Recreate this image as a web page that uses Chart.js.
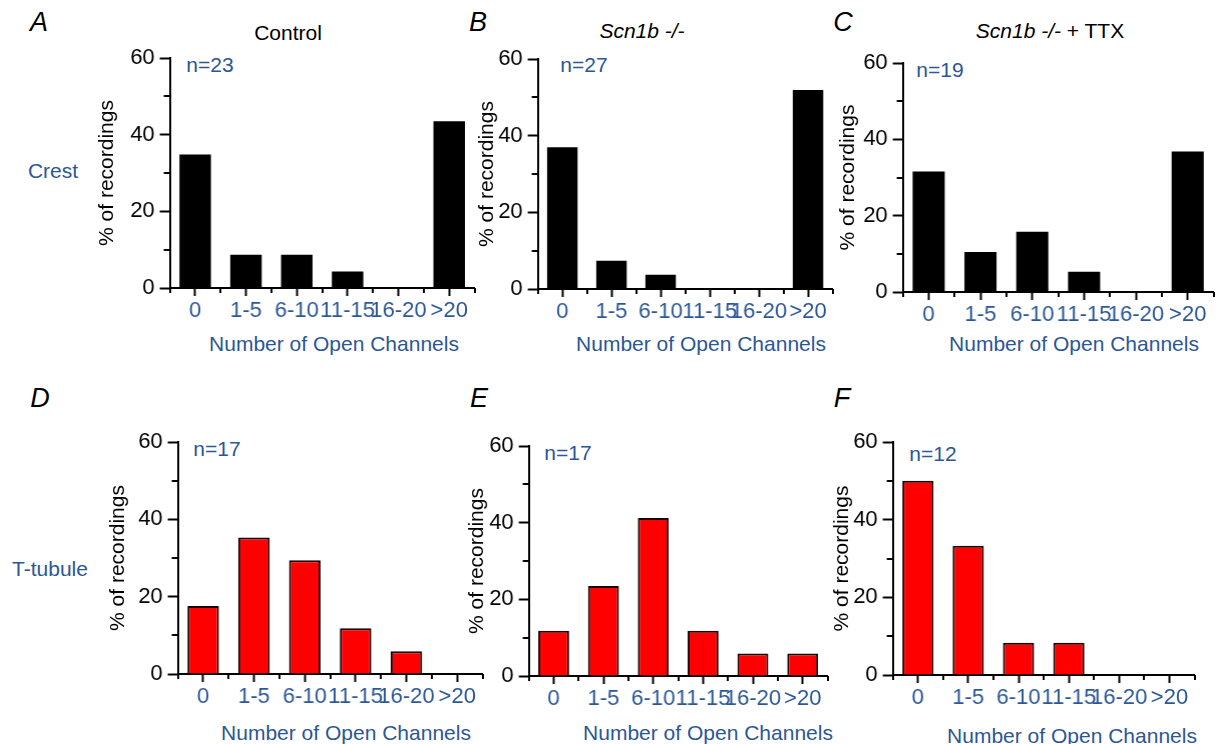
<!DOCTYPE html>
<html lang="en">

<head>
    <meta charset="UTF-8" />
    <title>Open channels</title>
    <script src="https://cdn.jsdelivr.net/npm/chart.js"></script>
    <style>
        body {
            margin: 0;
            background: #fff;
            font-family: "Liberation Sans", Arial, sans-serif;
        }

        .page {
            position: relative;
            width: 1225px;
            height: 744px;
            overflow: hidden;
        }

        .panel {
            position: absolute;
        }

        .txt {
            position: absolute;
            transform: translate(-50%, -50%);
            white-space: nowrap;
            font-size: 21px;
            line-height: 1;
        }

        .blue {
            color: #2b5797;
        }

        .letter {
            font-size: 27px;
            font-style: italic;
        }
    </style>
</head>

<body>
    <div class="page" id="page">
        <div class="txt letter" style="left:39px; top:22px;">A</div>
        <div class="txt letter" style="left:478px; top:22px;">B</div>
        <div class="txt letter" style="left:843px; top:22px;">C</div>
        <div class="txt letter" style="left:40px; top:398px;">D</div>
        <div class="txt letter" style="left:479px; top:398px;">E</div>
        <div class="txt letter" style="left:842px; top:398px;">F</div>

        <div class="txt" style="left:288px; top:32px;">Control</div>
        <div class="txt" style="left:642px; top:30px;"><i>Scn1b -/-</i></div>
        <div class="txt" style="left:1050px; top:30px;"><i>Scn1b -/-</i> + TTX</div>

        <div class="txt blue" style="left:53px; top:170px;">Crest</div>
        <div class="txt blue" style="left:50px; top:568px;">T-tubule</div>

        <div class="txt blue" style="left:210px; top:64px;">n=23</div>
        <div class="txt blue" style="left:584px; top:64px;">n=27</div>
        <div class="txt blue" style="left:940px; top:69px;">n=19</div>
        <div class="txt blue" style="left:217px; top:448px;">n=17</div>
        <div class="txt blue" style="left:568px; top:452px;">n=17</div>
        <div class="txt blue" style="left:933px; top:453px;">n=12</div>

        <div class="txt blue" style="left:334px; top:343px;">Number of Open Channels</div>
        <div class="txt blue" style="left:701px; top:343px;">Number of Open Channels</div>
        <div class="txt blue" style="left:1074px; top:343px;">Number of Open Channels</div>
        <div class="txt blue" style="left:346px; top:732px;">Number of Open Channels</div>
        <div class="txt blue" style="left:708px; top:732px;">Number of Open Channels</div>
        <div class="txt blue" style="left:1072px; top:735px;">Number of Open Channels</div>
    </div>

    <script>
        // categories and values (% of recordings)
        const categories = ["0", "1-5", "6-10", "11-15", "16-20", ">20"];

        const crestControl = [34.8, 8.7, 8.7, 4.3, 0, 43.5];
        const crestScn1b = [37.0, 7.4, 3.7, 0, 0, 51.9];
        const crestScn1bTTX = [31.6, 10.5, 15.8, 5.3, 0, 36.8];

        const ttubuleControl = [17.6, 35.3, 29.4, 11.8, 5.9, 0];
        const ttubuleScn1b = [11.8, 23.5, 41.2, 11.8, 5.9, 5.9];
        const ttubuleScn1bTTX = [50.0, 33.3, 8.3, 8.3, 0, 0];

        const yMin = 0;
        const yMax = 60;
        const yStep = 20;

        const BLUE = "#2b5797";

        Chart.defaults.font.family = '"Liberation Sans", Arial, sans-serif';
        Chart.defaults.font.size = 21;
        Chart.defaults.color = "#000";

        // short ticks between categories and at the half steps of y
        const minorTicks = {
            id: "minorTicks",
            afterDraw(chart) {
                const { ctx, scales: { x, y } } = chart;
                ctx.save();
                ctx.strokeStyle = "#000";
                ctx.lineWidth = 2;
                ctx.beginPath();
                for (let v = yMin + yStep / 2; v < yMax; v += yStep) {
                    const py = Math.round(y.getPixelForValue(v));
                    ctx.moveTo(y.right - 6, py);
                    ctx.lineTo(y.right, py);
                }
                for (let i = 0; i <= x.ticks.length; i++) {
                    const px = Math.round(x.getPixelForValue(i - 0.5));
                    ctx.moveTo(px, x.top);
                    ctx.lineTo(px, x.top + 5);
                }
                ctx.stroke();
                ctx.restore();
            },
        };

        // axis position on the page for each panel
        const panels = [
            { data: crestControl, fill: "#000", edge: "#000", ax: 170, axEnd: 474, top: 58, bottom: 288, tdist: 62 },
            { data: crestScn1b, fill: "#000", edge: "#000", ax: 538, axEnd: 832, top: 59, bottom: 289, tdist: 50 },
            { data: crestScn1bTTX, fill: "#000", edge: "#000", ax: 903, axEnd: 1213, top: 63, bottom: 292, tdist: 54 },
            { data: ttubuleControl, fill: "#ff0000", edge: "#1a0000", ax: 178, axEnd: 482, top: 442, bottom: 674, tdist: 59 },
            { data: ttubuleScn1b, fill: "#ff0000", edge: "#1a0000", ax: 529, axEnd: 827, top: 446, bottom: 676, tdist: 51 },
            { data: ttubuleScn1bTTX, fill: "#ff0000", edge: "#1a0000", ax: 893, axEnd: 1194, top: 442, bottom: 675, tdist: 50 },
        ];

        const PAD_TOP = 20;
        const PAD_RIGHT = 15;
        const X_H = 40;

        const page = document.getElementById("page");

        panels.forEach(function (p) {
            const yW = p.tdist + 16.6;
            const box = document.createElement("div");
            box.className = "panel";
            box.style.left = (p.ax - yW) + "px";
            box.style.top = (p.top - PAD_TOP) + "px";
            box.style.width = (yW + (p.axEnd - p.ax) + PAD_RIGHT) + "px";
            box.style.height = (PAD_TOP + (p.bottom - p.top) + X_H) + "px";
            const canvas = document.createElement("canvas");
            box.appendChild(canvas);
            page.appendChild(box);

            new Chart(canvas.getContext("2d"), {
                type: "bar",
                data: {
                    labels: categories,
                    datasets: [
                        {
                            data: p.data,
                            backgroundColor: p.fill,
                            borderColor: p.edge,
                            borderWidth: p.fill === "#000" ? 0 : 2,
                            barPercentage: 0.62,
                            categoryPercentage: 1,
                        },
                    ],
                },
                options: {
                    responsive: true,
                    maintainAspectRatio: false,
                    animation: false,
                    layout: {
                        padding: { top: PAD_TOP, right: PAD_RIGHT, left: 0, bottom: 0 },
                    },
                    plugins: {
                        legend: { display: false },
                        tooltip: { enabled: false },
                    },
                    scales: {
                        x: {
                            offset: true,
                            grid: {
                                offset: false,
                                drawOnChartArea: false,
                                tickLength: 8,
                                tickWidth: 2,
                                tickColor: "#000",
                            },
                            border: { display: true, color: "#000", width: 2 },
                            ticks: {
                                color: BLUE,
                                font: { size: 22 },
                                autoSkip: false,
                                maxRotation: 0,
                                minRotation: 0,
                                padding: 2,
                            },
                            afterFit: function (scale) {
                                scale.height = X_H;
                            },
                        },
                        y: {
                            min: yMin,
                            max: yMax,
                            grid: {
                                drawOnChartArea: false,
                                tickLength: 10,
                                tickWidth: 2,
                                tickColor: "#000",
                            },
                            border: { display: true, color: "#000", width: 2 },
                            ticks: { stepSize: yStep, padding: 5, color: "#000", font: { size: 22 } },
                            title: {
                                display: true,
                                text: "% of recordings",
                                color: "#000",
                                font: { size: 21 },
                            },
                            afterFit: function (scale) {
                                scale.width = yW;
                            },
                        },
                    },
                },
                plugins: [minorTicks],
            });
        });
    </script>
</body>

</html>
